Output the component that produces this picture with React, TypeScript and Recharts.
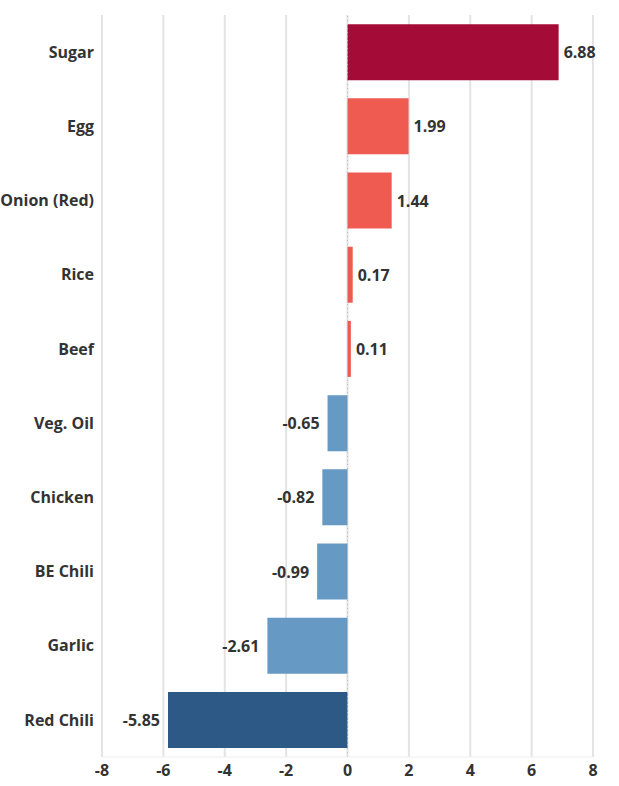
import React from "react";
import {
  BarChart,
  Bar,
  XAxis,
  YAxis,
  CartesianGrid,
  ReferenceLine,
  Cell,
  LabelList,
} from "recharts";

const categories = [
  "Sugar",
  "Egg",
  "Onion (Red)",
  "Rice",
  "Beef",
  "Veg. Oil",
  "Chicken",
  "BE Chili",
  "Garlic",
  "Red Chili",
];
const values = [6.88, 1.99, 1.44, 0.17, 0.11, -0.65, -0.82, -0.99, -2.61, -5.85];
const barColors = [
  "#A50B37",
  "#EF5B50",
  "#EF5B50",
  "#EF5B50",
  "#EF5B50",
  "#6699C4",
  "#6699C4",
  "#6699C4",
  "#6699C4",
  "#2D5986",
];
const xTicks = [-8, -6, -4, -2, 0, 2, 4, 6, 8];

const data = categories.map((name, i) => ({ name, value: values[i] }));

const FONT = "'Open Sans', sans-serif";
const TEXT = "#333333";
const FS = 16;

const ValueLabel = (props: any) => {
  const { x, y, width, height, value } = props;
  const w = Number(width);
  const left = Math.min(x, x + w);
  const right = Math.max(x, x + w);
  const cy = y + height / 2;
  const neg = value < 0;
  return (
    <text
      x={neg ? left - 8 : right + 5}
      y={cy}
      textAnchor={neg ? "end" : "start"}
      dominantBaseline="central"
      fontFamily={FONT}
      fontWeight={700}
      fontSize={FS}
      fill={TEXT}
    >
      {value.toFixed(2)}
    </text>
  );
};

export default function App() {
  return (
    <div style={{ position: "absolute", left: 0, top: 0 }}>
      <BarChart
        width={619}
        height={786}
        data={data}
        layout="vertical"
        margin={{ top: 15, right: 26, bottom: 0, left: 0 }}
        barCategoryGap="12.3%"
      >
        <CartesianGrid horizontal={false} stroke="#e3e3e3" strokeWidth={2} />
        <XAxis
          type="number"
          domain={[-8, 8]}
          ticks={xTicks}
          height={29}
          axisLine={{ stroke: "#eeeeee" }}
          tickLine={false}
          tick={{ fontFamily: FONT, fontWeight: 700, fontSize: FS, fill: TEXT }}
        />
        <YAxis
          type="category"
          dataKey="name"
          width={102}
          axisLine={false}
          tickLine={false}
          tick={{ fontFamily: FONT, fontWeight: 700, fontSize: FS, fill: TEXT }}
        />
        <Bar dataKey="value" isAnimationActive={false}>
          {data.map((d, i) => (
            <Cell key={d.name} fill={barColors[i]} />
          ))}
          <LabelList dataKey="value" content={ValueLabel} />
        </Bar>
        <ReferenceLine x={0} stroke="#bbbbbb" strokeDasharray="1 3" />
      </BarChart>
    </div>
  );
}
